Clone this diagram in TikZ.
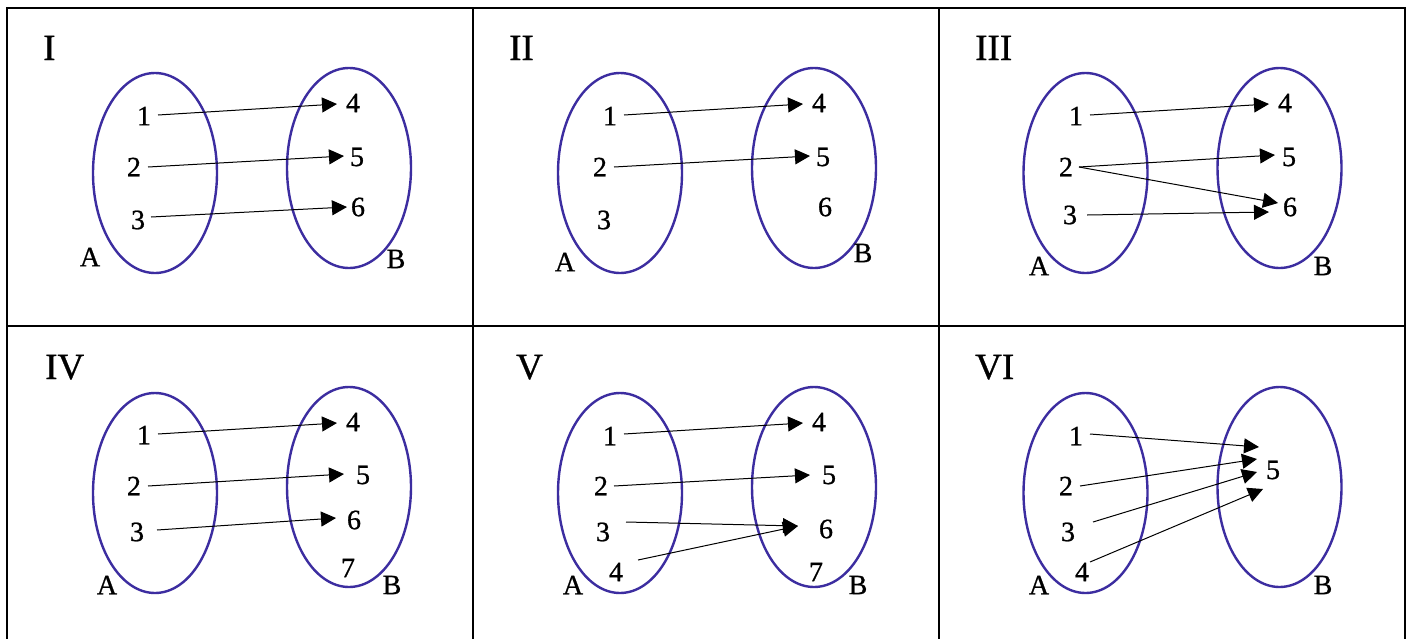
\documentclass[tikz,border=0pt]{standalone}
\usepackage{fontspec}
\setmainfont{Liberation Serif}
\newfontfamily\heavyserif{Liberation Serif}[FakeBold=0.8]
\usetikzlibrary{arrows.meta}
\definecolor{setblue}{RGB}{60,45,160}
\newcommand\numfont{\heavyserif\fontsize{28}{30}\selectfont}
\newcommand\ttlfont{\heavyserif\fontsize{37}{40}\selectfont}
\tikzset{
  num/.style={inner sep=0pt, font=\numfont},
  ttl/.style={anchor=base west, inner sep=0pt, font=\ttlfont},
  setell/.style={draw=setblue, line width=2.4pt},
  maparrow/.style={line width=1pt, -{Triangle[length=15pt,width=15pt]}},
  tablerule/.style={line width=2pt, black}
}
\begin{document}
\begin{tikzpicture}[x=1pt,y=-1pt]
\useasboundingbox (0,0) rectangle (1408,638);
\fill[white] (0,0) rectangle (1408,638);
% table
\draw[tablerule] (7,640) -- (7,7.5) -- (1405,7.5) -- (1405,640);
\draw[tablerule] (473,7.5) -- (473,640);
\draw[tablerule] (939,7.5) -- (939,640);
\draw[tablerule] (7,326) -- (1405,326);

% ---------- Panel I ----------
\begin{scope}
\node[ttl] (Ittl) at (43,60) {I};
\draw[setell] (155,173) ellipse [x radius=62pt, y radius=100pt];
\draw[setell] (349,168) ellipse [x radius=62pt, y radius=100pt];
\node[num] (Ia1) at (144,116) {1};
\node[num] (Ia2) at (134,167) {2};
\node[num] (Ia3) at (138,220) {3};
\node[num] (Ib4) at (353,103) {4};
\node[num] (Ib5) at (357,157) {5};
\node[num] (Ib6) at (358,207) {6};
\node[num] (IA) at (90,257) {A};
\node[num] (IB) at (396,259) {B};
\draw[maparrow] ([shift={(14,-1)}]Ia1.center) -- ([shift={(-16,1)}]Ib4.center);
\draw[maparrow] ([shift={(14,0)}]Ia2.center) -- ([shift={(-13,-1)}]Ib5.center);
\draw[maparrow] ([shift={(13,-3)}]Ia3.center) -- ([shift={(-11,0)}]Ib6.center);
\end{scope}

% ---------- Panel II ----------
\begin{scope}[shift={(465,0)}]
\node[ttl] (IIttl) at (44,60) {II};
\draw[setell] (155,173) ellipse [x radius=62pt, y radius=100pt];
\draw[setell] (349,168) ellipse [x radius=62pt, y radius=100pt];
\node[num] (IIa1) at (145,116) {1};
\node[num] (IIa2) at (135,167) {2};
\node[num] (IIa3) at (139,220) {3};
\node[num] (IIb4) at (354,103) {4};
\node[num] (IIb5) at (358,157) {5};
\node[num] (IIb6) at (360,207) {6};
\node[num] (IIA) at (100,262) {A};
\node[num] (IIB) at (398,253) {B};
\draw[maparrow] ([shift={(14,-1)}]IIa1.center) -- ([shift={(-16,1)}]IIb4.center);
\draw[maparrow] ([shift={(14,0)}]IIa2.center) -- ([shift={(-13,-1)}]IIb5.center);
\end{scope}

% ---------- Panel III ----------
\begin{scope}[shift={(930,0)}]
\node[ttl] (IIIttl) at (45,60) {III};
\draw[setell] (155.5,173) ellipse [x radius=62pt, y radius=100pt];
\draw[setell] (349.5,168) ellipse [x radius=62pt, y radius=100pt];
\node[num] (IIIa1) at (146,116) {1};
\node[num] (IIIa2) at (136,167) {2};
\node[num] (IIIa3) at (140,215) {3};
\node[num] (IIIb4) at (355,103) {4};
\node[num] (IIIb5) at (359,157) {5};
\node[num] (IIIb6) at (360,207) {6};
\node[num] (IIIA) at (109,266) {A};
\node[num] (IIIB) at (393,266) {B};
\draw[maparrow] ([shift={(14,-1)}]IIIa1.center) -- ([shift={(-16,1)}]IIIb4.center);
\draw[maparrow] ([shift={(13,0)}]IIIa2.center) -- ([shift={(-14,-2)}]IIIb5.center);
\draw[maparrow] ([shift={(13,0)}]IIIa2.center) -- ([shift={(-12,-4)}]IIIb6.center);
\draw[maparrow] ([shift={(17,0)}]IIIa3.center) -- ([shift={(-21,5)}]IIIb6.center);
\end{scope}

% ---------- Panel IV ----------
\begin{scope}[shift={(0,320)}]
\node[ttl] (IVttl) at (45,59) {IV};
\draw[setell] (155,173) ellipse [x radius=62pt, y radius=100pt];
\draw[setell] (349,167) ellipse [x radius=62pt, y radius=100pt];
\node[num] (IVa1) at (144,115) {1};
\node[num] (IVa2) at (134,166) {2};
\node[num] (IVa3) at (137,212) {3};
\node[num] (IVb4) at (353,102) {4};
\node[num] (IVb5) at (363,155) {5};
\node[num] (IVb6) at (354,200) {6};
\node[num] (IVb7) at (348,248) {7};
\node[num] (IVA) at (107,265) {A};
\node[num] (IVB) at (392,265) {B};
\draw[maparrow] ([shift={(14,-1)}]IVa1.center) -- ([shift={(-16,1)}]IVb4.center);
\draw[maparrow] ([shift={(14,0)}]IVa2.center) -- ([shift={(-19,-1)}]IVb5.center);
\draw[maparrow] ([shift={(20,-2)}]IVa3.center) -- ([shift={(-18,-2)}]IVb6.center);
\end{scope}

% ---------- Panel V ----------
\begin{scope}[shift={(465,320)}]
\node[ttl] (Vttl) at (51,59) {V};
\draw[setell] (155,173) ellipse [x radius=62pt, y radius=100pt];
\draw[setell] (349,167) ellipse [x radius=62pt, y radius=100pt];
\node[num] (Va1) at (145,116) {1};
\node[num] (Va2) at (136,166) {2};
\node[num] (Va3) at (138,212) {3};
\node[num] (Va4) at (151,252) {4};
\node[num] (Vb4) at (354,102) {4};
\node[num] (Vb5) at (364,155) {5};
\node[num] (Vb6) at (361,209) {6};
\node[num] (Vb7) at (351,252) {7};
\node[num] (VA) at (108,265) {A};
\node[num] (VB) at (393,265) {B};
\draw[maparrow] ([shift={(14,-2)}]Va1.center) -- ([shift={(-16,1)}]Vb4.center);
\draw[maparrow] ([shift={(13,0)}]Va2.center) -- ([shift={(-19,0)}]Vb5.center);
\draw[maparrow] ([shift={(23,-10)}]Va3.center) -- ([shift={(-28,-3)}]Vb6.center);
\draw[maparrow] ([shift={(22,-12)}]Va4.center) -- ([shift={(-28,-3)}]Vb6.center);
\end{scope}

% ---------- Panel VI ----------
\begin{scope}[shift={(930,320)}]
\node[ttl] (VIttl) at (45,59) {VI};
\draw[setell] (155.5,173) ellipse [x radius=62pt, y radius=100pt];
\draw[setell] (349.5,167) ellipse [x radius=62pt, y radius=100pt];
\node[num] (VIa1) at (146,116) {1};
\node[num] (VIa2) at (136,166) {2};
\node[num] (VIa3) at (138,212) {3};
\node[num] (VIa4) at (152,252) {4};
\node[num] (VIb5) at (343,150) {5};
\node[num] (VIA) at (109,265) {A};
\node[num] (VIB) at (393,265) {B};
\draw[maparrow] ([shift={(14,-2)}]VIa1.center) -- ([shift={(-14,-23)}]VIb5.center);
\draw[maparrow] ([shift={(14,0)}]VIa2.center) -- ([shift={(-16,-11)}]VIb5.center);
\draw[maparrow] ([shift={(25,-10)}]VIa3.center) -- ([shift={(-16,2)}]VIb5.center);
\draw[maparrow] ([shift={(8,-10)}]VIa4.center) -- ([shift={(-10,19)}]VIb5.center);
\end{scope}
\end{tikzpicture}
\end{document}
